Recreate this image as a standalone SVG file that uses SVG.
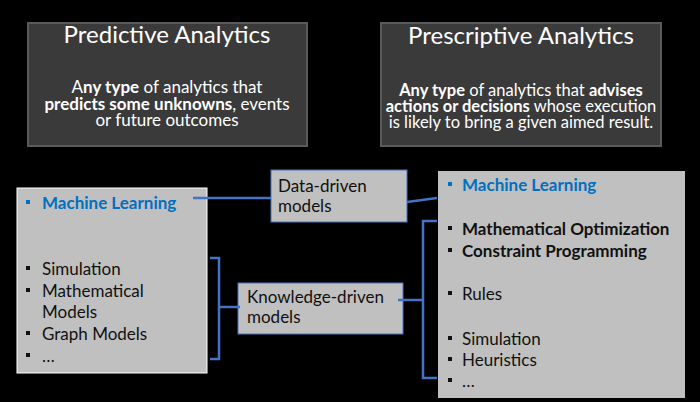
<svg xmlns="http://www.w3.org/2000/svg" width="700" height="402" viewBox="0 0 700 402">
<style>
.dark{fill:#3a3a3a;stroke:#5a5a5a;stroke-width:2}
.lite{fill:#c0c0c0}
.t{font-family:Lato,"Open Sans",sans-serif}
.title{font-size:24px;fill:#fff;text-anchor:middle}
.desc{font-size:17px;fill:#fff;text-anchor:middle}
.desc2{font-size:16.5px;fill:#fff;text-anchor:middle}
.item{font-size:17px;fill:#111}
.b{font-weight:bold}
.blue{fill:#0070c0}
.con{fill:none;stroke:#4472c4;stroke-width:2.5}
</style>
<rect width="700" height="402" fill="#000"/>
<g id="predictive">
<rect class="dark" x="28" y="23" width="279" height="123"/>
<text class="t title" x="167" y="43">Predictive Analytics</text>
<text class="t desc" x="167" y="93">A<tspan class="b">ny type</tspan> of analytics that</text>
<text class="t desc" x="167" y="110"><tspan class="b">predicts some unknowns</tspan>, events</text>
<text class="t desc" x="167" y="126">or future outcomes</text>
</g>
<g id="prescriptive">
<rect class="dark" x="381" y="23" width="280" height="123"/>
<text class="t title" x="521" y="44">Prescriptive Analytics</text>
<text class="t desc2" x="521" y="96"><tspan class="b">Any type</tspan> of analytics that <tspan class="b">advises</tspan></text>
<text class="t desc2" x="521" y="112"><tspan class="b">actions or decisions</tspan> whose execution</text>
<text class="t desc2" x="521" y="128">is likely to bring a given aimed result.</text>
</g>
<g id="left-list">
<rect class="lite" x="17" y="188" width="190" height="185" stroke="#fff" stroke-width="1"/>
<rect x="26" y="200" width="4" height="4" fill="#0070c0"/>
<text class="t item b blue" x="42" y="209">Machine Learning</text>
<rect x="26" y="266" width="4" height="4" fill="#111"/>
<text class="t item" x="42" y="275">Simulation</text>
<rect x="26" y="288" width="4" height="4" fill="#111"/>
<text class="t item" x="42" y="297">Mathematical</text>
<text class="t item" x="42" y="318">Models</text>
<rect x="26" y="331" width="4" height="4" fill="#111"/>
<text class="t item" x="42" y="340">Graph Models</text>
<rect x="26" y="353" width="4" height="4" fill="#111"/>
<text class="t item" x="42" y="362">…</text>
</g>
<g id="data-driven">
<rect class="lite" x="271" y="170" width="136" height="52" stroke="#4472c4" stroke-width="1"/>
<text class="t item" x="278" y="192">Data-driven</text>
<text class="t item" x="278" y="212">models</text>
</g>
<g id="knowledge-driven">
<rect class="lite" x="238" y="283" width="165" height="51" stroke="#4472c4" stroke-width="1"/>
<text class="t item" x="247" y="303">Knowledge-driven</text>
<text class="t item" x="247" y="323">models</text>
</g>
<g id="right-list">
<rect class="lite" x="438" y="171" width="247" height="227"/>
<rect x="448" y="182" width="4" height="4" fill="#0070c0"/>
<text class="t item b blue" x="462" y="191">Machine Learning</text>
<rect x="448" y="226" width="4" height="4" fill="#111"/>
<text class="t item b" x="462" y="235">Mathematical Optimization</text>
<rect x="448" y="248" width="4" height="4" fill="#111"/>
<text class="t item b" x="462" y="257">Constraint Programming</text>
<rect x="448" y="291" width="4" height="4" fill="#111"/>
<text class="t item" x="462" y="300">Rules</text>
<rect x="448" y="336" width="4" height="4" fill="#111"/>
<text class="t item" x="462" y="345">Simulation</text>
<rect x="448" y="357" width="4" height="4" fill="#111"/>
<text class="t item" x="462" y="366">Heuristics</text>
<rect x="448" y="378" width="4" height="4" fill="#111"/>
<text class="t item" x="462" y="387">…</text>
</g>
<g id="connectors">
<path class="con" d="M193 198 H271"/>
<path class="con" d="M407 202 L437 198"/>
<path class="con" d="M210 258 H219 V359 H210 M219 307 H240"/>
<path class="con" d="M437 221 H423 V378 H437 M423 300 H398"/>
</g>
</svg>
